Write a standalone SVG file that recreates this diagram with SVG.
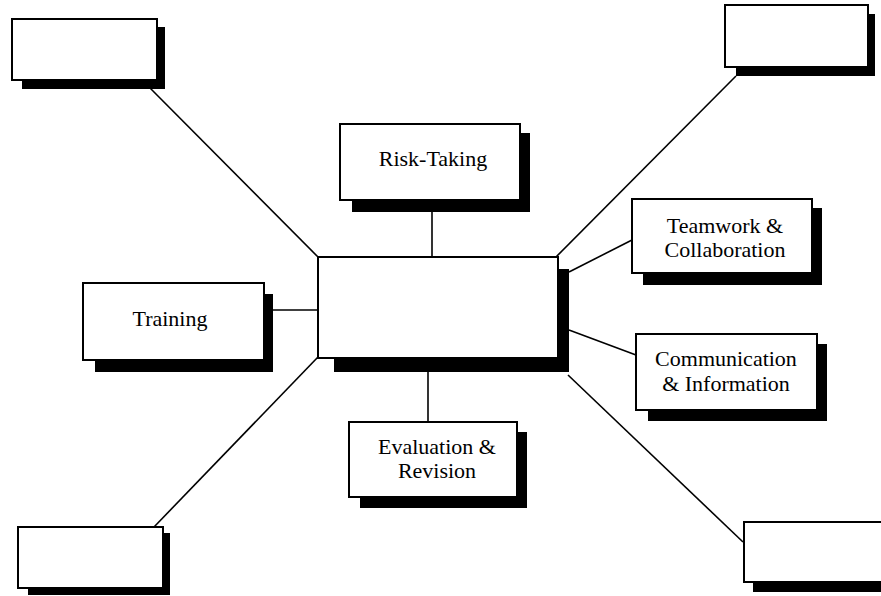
<svg xmlns="http://www.w3.org/2000/svg" width="881" height="596" viewBox="0 0 881 596">
  <style>
    .shadow { fill: #000; }
    .box { fill: #fff; stroke: #000; stroke-width: 2; }
    .link { stroke: #000; stroke-width: 1.6; fill: none; }
    .label { font-family: "Liberation Serif", "Times New Roman", serif; font-size: 22px; fill: #000; text-anchor: middle; }
  </style>
  <rect width="881" height="596" fill="#fff"/>

  <!-- connectors -->
  <g id="connectors">
    <line class="link" x1="150" y1="88" x2="318" y2="257"/>
    <line class="link" x1="736" y1="76" x2="556" y2="257"/>
    <line class="link" x1="432" y1="212" x2="432" y2="257"/>
    <line class="link" x1="569" y1="272" x2="632" y2="240"/>
    <line class="link" x1="569" y1="330" x2="636" y2="355"/>
    <line class="link" x1="273" y1="310" x2="318" y2="310"/>
    <line class="link" x1="428" y1="372" x2="428" y2="422"/>
    <line class="link" x1="154" y1="527" x2="318" y2="357"/>
    <line class="link" x1="568" y1="375" x2="743" y2="542"/>
  </g>

  <g id="node-top-left">
    <rect class="shadow" x="22" y="27" width="143" height="62"/>
    <rect class="box" x="12" y="19" width="145" height="61"/>
  </g>

  <g id="node-top-right">
    <rect class="shadow" x="736" y="14" width="139" height="62"/>
    <rect class="box" x="725" y="5" width="143" height="62"/>
  </g>

  <g id="node-risk-taking">
    <rect class="shadow" x="352" y="133" width="178" height="79"/>
    <rect class="box" x="340" y="124" width="180" height="76"/>
    <text class="label" x="433" y="166">Risk-Taking</text>
  </g>

  <g id="node-center">
    <rect class="shadow" x="334" y="269" width="235" height="103"/>
    <rect class="box" x="318" y="257" width="240" height="101"/>
  </g>

  <g id="node-teamwork">
    <rect class="shadow" x="643" y="208" width="179" height="77"/>
    <rect class="box" x="632" y="199" width="180" height="74"/>
    <text class="label" x="725" y="233">Teamwork &amp;</text>
    <text class="label" x="725" y="257">Collaboration</text>
  </g>

  <g id="node-training">
    <rect class="shadow" x="95" y="294" width="178" height="78"/>
    <rect class="box" x="83" y="283" width="181" height="77"/>
    <text class="label" x="170" y="326">Training</text>
  </g>

  <g id="node-communication">
    <rect class="shadow" x="648" y="344" width="179" height="77"/>
    <rect class="box" x="636" y="334" width="181" height="76"/>
    <text class="label" x="726" y="366">Communication</text>
    <text class="label" x="726" y="391">&amp; Information</text>
  </g>

  <g id="node-evaluation">
    <rect class="shadow" x="360" y="432" width="167" height="76"/>
    <rect class="box" x="349" y="422" width="168" height="75"/>
    <text class="label" x="437" y="454">Evaluation &amp;</text>
    <text class="label" x="437" y="478">Revision</text>
  </g>

  <g id="node-bottom-left">
    <rect class="shadow" x="28" y="533" width="142" height="62"/>
    <rect class="box" x="18" y="527" width="145" height="61"/>
  </g>

  <g id="node-bottom-right">
    <rect class="shadow" x="753" y="530" width="140" height="62"/>
    <rect class="box" x="744" y="522" width="150" height="60"/>
  </g>
</svg>
